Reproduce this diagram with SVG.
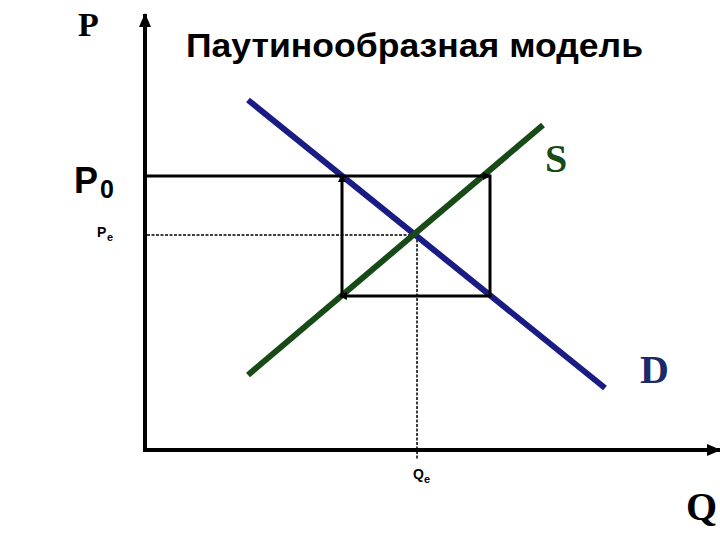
<svg xmlns="http://www.w3.org/2000/svg" width="720" height="540" viewBox="0 0 720 540">
<defs>
<marker id="ah" markerWidth="8" markerHeight="8" refX="7" refY="4" orient="auto" markerUnits="userSpaceOnUse">
<path d="M0,0 L8,4 L0,8 Z" fill="#000"/>
</marker>
<marker id="axh" markerWidth="14" markerHeight="12" refX="13" refY="6" orient="auto" markerUnits="userSpaceOnUse">
<path d="M0,0 L14,6 L0,12 Z" fill="#000"/>
</marker>
</defs>
<style>
.ax{stroke:#000;stroke-width:4;fill:none}
.st{stroke:#000;stroke-width:3;fill:none}
.dash{stroke:#000;stroke-width:1.5;stroke-dasharray:3,1.5;fill:none}
.times{font-family:"Liberation Serif","Times New Roman",serif;font-weight:bold}
.arial{font-family:"Liberation Sans",Arial,sans-serif;font-weight:bold}
</style>
<rect width="720" height="540" fill="#fff"/>
<g id="axes">
<line class="ax" x1="145" y1="452" x2="145" y2="14" marker-end="url(#axh)"/>
<line class="ax" x1="143" y1="450" x2="720" y2="450" marker-end="url(#axh)"/>
</g>
<g id="guides">
<line class="dash" x1="147" y1="235" x2="415" y2="235"/>
<line class="dash" x1="417" y1="235" x2="417" y2="460"/>
</g>
<g id="curves">
<line id="D" x1="248" y1="100" x2="605" y2="388" stroke="#1b1b84" stroke-width="6"/>
<line id="S" x1="248" y1="375" x2="543" y2="125" stroke="#184a18" stroke-width="6"/>
</g>
<g id="connectors">
<line class="st" x1="147" y1="176" x2="490" y2="176" marker-end="url(#ah)"/>
<line class="st" x1="490" y1="174.5" x2="490" y2="297"/>
<line class="st" x1="491" y1="296" x2="340" y2="296" marker-end="url(#ah)"/>
<line class="st" x1="342" y1="297" x2="342" y2="175" marker-end="url(#ah)"/>
</g>
<g id="labels">
<text class="times" x="78" y="36" font-size="34">P</text>
<text class="arial" x="186" y="57" font-size="33" textLength="457" lengthAdjust="spacingAndGlyphs">Паутинообразная модель</text>
<text class="arial" x="74" y="193" font-size="36">P</text>
<text class="arial" x="100" y="198" font-size="25" font-weight="normal">0</text>
<text class="arial" x="97" y="237" font-size="14">P</text>
<text class="arial" x="107" y="241" font-size="11">e</text>
<text class="arial" x="413" y="479" font-size="14">Q</text>
<text class="arial" x="424" y="483" font-size="11">e</text>
<text class="times" x="545" y="172" font-size="40" fill="#184a18" font-weight="normal">S</text>
<text class="times" x="640" y="383" font-size="40" fill="#1b2a6a">D</text>
<text class="times" x="686" y="520" font-size="40" fill="#000">Q</text>
</g>
</svg>
